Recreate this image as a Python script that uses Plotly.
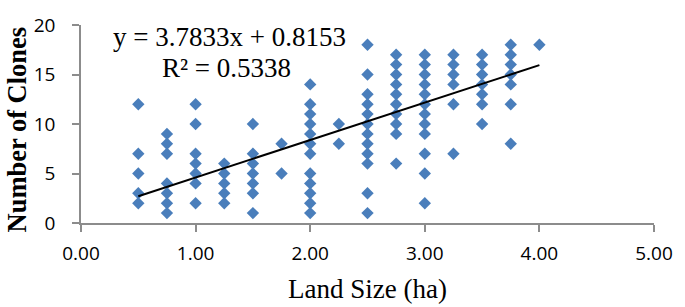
import plotly.graph_objects as go

# Data
land_size = [0.5, 0.75, 1.0, 1.25, 1.5, 1.75, 2.0, 2.25, 2.5, 2.75, 3.0, 3.25, 3.5, 3.75, 4.0]
clones_at_size = [
    [12, 7, 5, 3, 2],
    [9, 8, 7, 4, 3, 2, 1],
    [12, 10, 7, 6, 5, 4, 2],
    [6, 5, 4, 3, 2],
    [10, 7, 6, 5, 4, 3, 1],
    [8, 5],
    [14, 12, 11, 10, 9, 8, 7, 5, 4, 3, 2, 1],
    [10, 8],
    [18, 15, 13, 12, 11, 10, 9, 8, 7, 6, 3, 1],
    [17, 16, 15, 14, 13, 12, 11, 10, 9, 6],
    [17, 16, 15, 14, 13, 12, 11, 10, 9, 7, 5, 2],
    [17, 16, 15, 14, 12, 7],
    [17, 16, 15, 14, 13, 12, 10],
    [18, 17, 16, 15, 14, 12, 8],
    [18],
]
slope = 3.7833
intercept = 0.8153
r_squared = 0.5338
x_ticks = [0, 1, 2, 3, 4, 5]
y_ticks = [0, 5, 10, 15, 20]

xs, ys = [], []
for x, vals in zip(land_size, clones_at_size):
    for v in vals:
        xs.append(x)
        ys.append(v)

trend_x = [min(land_size), max(land_size)]
trend_y = [slope * x + intercept for x in trend_x]

fig = go.Figure()
fig.add_trace(go.Scatter(
    x=xs, y=ys, mode="markers",
    marker=dict(symbol="diamond", size=9.5, color="#4A7EBB", line=dict(width=0)),
    showlegend=False, hoverinfo="x+y",
))
fig.add_trace(go.Scatter(
    x=trend_x, y=trend_y, mode="lines",
    line=dict(color="black", width=2),
    showlegend=False,
))

serif = "Liberation Serif, Times New Roman, serif"
fig.add_annotation(x=1.295, y=18.74, xref="x", yref="y",
                   text=f"y = {slope}x + {intercept}", showarrow=False,
                   font=dict(family=serif, size=27, color="black"),
                   xanchor="center", yanchor="middle")
fig.add_annotation(x=1.27, y=15.7, xref="x", yref="y",
                   text=f"R² = {r_squared}", showarrow=False,
                   font=dict(family=serif, size=27, color="black"),
                   xanchor="center", yanchor="middle")
fig.add_annotation(x=0.5, y=-0.335, xref="paper", yref="paper",
                   text="Land Size (ha)", showarrow=False,
                   font=dict(family=serif, size=27, color="black"),
                   xanchor="center", yanchor="middle")
fig.add_annotation(x=-0.1125, y=0.47, xref="paper", yref="paper",
                   text="<b>Number of Clones</b>", showarrow=False, textangle=-90,
                   font=dict(family=serif, size=26.5, color="black"),
                   xanchor="center", yanchor="middle")

axis_color = "#8C8C8C"
fig.update_layout(
    width=685, height=307,
    margin=dict(l=81, r=22, t=12, b=84),
    paper_bgcolor="white", plot_bgcolor="white",
    xaxis=dict(range=[0, 5], tickvals=x_ticks, tickformat=".2f",
               showgrid=False, zeroline=False,
               showline=True, linecolor=axis_color, linewidth=1.5,
               ticks="outside", ticklen=7, tickcolor=axis_color, tickwidth=1.5,
               tickfont=dict(family="Open Sans", size=19, color="black"),
               ticklabelstandoff=5, ticklabeloverflow="allow"),
    yaxis=dict(range=[0, 20], tickvals=y_ticks,
               showgrid=False, zeroline=False,
               showline=True, linecolor=axis_color, linewidth=1.5,
               ticks="outside", ticklen=7, tickcolor=axis_color, tickwidth=1.5,
               tickfont=dict(family="Open Sans", size=19, color="black"),
               ticklabelstandoff=13, ticklabeloverflow="allow"),
)

fig.write_html("out.html", config={"displayModeBar": False},
               post_script="document.body.style.margin='0';")
